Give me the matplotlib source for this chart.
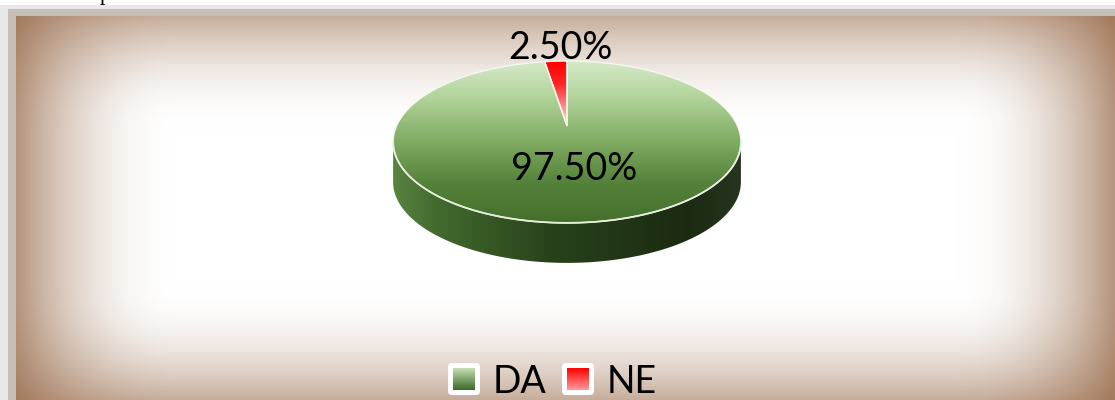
import numpy as np
import matplotlib
matplotlib.use("Agg")
import matplotlib.pyplot as plt
from matplotlib.transforms import Transform
from matplotlib.path import Path
from matplotlib.patches import Polygon, FancyBboxPatch
from matplotlib.colors import LinearSegmentedColormap

# ---------------- data ----------------
categories = ["DA", "NE"]
values = [97.5, 2.5]

# ---------------- styling ----------------
W, H = 1115, 400
FONT = "Lato"
plt.rcParams['font.family'] = [FONT, 'DejaVu Sans']

fig = plt.figure(figsize=(W / 100, H / 100), dpi=100)
ax = fig.add_axes([0, 0, 1, 1])

# ---------- background: frame + vignette ----------
yy, xx = np.mgrid[0:H, 0:W] + 0.5
dx = np.minimum(xx - 16, W - xx)
dy = np.minimum(yy - 16, H - yy)
gx = np.clip(1 - dx / 160, 0, 1) ** 2.0
gy = np.clip(1 - dy / 115, 0, 1) ** 2.0
f = 1 - (1 - 0.68 * gx) * (1 - 0.52 * gy)
D = np.array([0.43, 0.62, 0.76])
bg = 1 - f[..., None] * D
light = np.array([0.91, 0.91, 0.91])
tan = np.array([0.78, 0.75, 0.72])
bg[(yy >= 5) & (yy < 16)] = light
bg[(xx < 16) & (yy >= 5)] = light
bg[(yy >= 9) & (yy < 16) & (xx >= 8)] = tan
bg[(xx >= 8) & (xx < 16) & (yy >= 9)] = tan
bg[yy < 5] = 1.0
ax.imshow(bg, extent=(0, W, 0, H), aspect='auto', zorder=0, interpolation='bilinear')


# ---------- perspective transform for the 3D pie top ----------
class Persp(Transform):
    input_dims = 2
    output_dims = 2
    is_separable = False
    has_inverse = False

    def __init__(self, k, sx, sy, cx, cy):
        super().__init__()
        self.k, self.sx, self.sy, self.cx, self.cy = k, sx, sy, cx, cy

    def transform_non_affine(self, values):
        v = np.asarray(values, float)
        x, y = v[..., 0], v[..., 1]
        d = 1 + self.k * y
        return np.stack([self.cx + self.sx * x / d, self.cy + self.sy * y / d], axis=-1)

    def transform_path_non_affine(self, path):
        verts, codes = [], []
        for seg, code in path.iter_bezier():
            pts = seg(np.linspace(0, 1, 40))
            if code == Path.MOVETO:
                verts.append(pts[-1:])
                codes.append([Path.MOVETO])
            else:
                verts.append(pts[1:])
                codes.append([Path.LINETO] * (len(pts) - 1))
        verts = np.concatenate(verts)
        codes = np.concatenate(codes)
        verts = np.vstack([verts, verts[:1]])
        codes = np.append(codes, Path.CLOSEPOLY)
        return Path(self.transform_non_affine(verts), codes)


K = 0.197
persp = Persp(K, 170.5, 77.8, 567, 274)
DEPTH = 40

wedges, texts, autotexts = ax.pie(
    values, startangle=90, counterclock=False, autopct='%.2f%%',
    pctdistance=0.5, labeldistance=None, radius=1,
    wedgeprops=dict(edgecolor='#f4f8f0', linewidth=1.0),
    textprops=dict(fontsize=27, family=[FONT, 'DejaVu Sans'], color='black'))

# ---------- side wall ----------
t = np.linspace(np.pi + np.arcsin(K), 2 * np.pi - np.arcsin(K), 400)
top_arc = persp.transform(np.column_stack([np.cos(t), np.sin(t)]))
bot_arc = top_arc[::-1] - np.array([0, DEPTH])
side_pts = np.vstack([top_arc, bot_arc])
side = Polygon(side_pts, closed=True, facecolor='none', edgecolor='none', zorder=1)
ax.add_patch(side)
side_cmap = LinearSegmentedColormap.from_list('side', [
    (0.0, '#5a8442'), (0.12, '#436b2e'), (0.45, '#29421b'), (0.85, '#1b2b12'), (1.0, '#253521')])
xl, xr = side_pts[:, 0].min(), side_pts[:, 0].max()
yb, yt = side_pts[:, 1].min(), side_pts[:, 1].max()
im = ax.imshow(np.linspace(0, 1, 256)[None, :], cmap=side_cmap, extent=(xl, xr, yb, yt),
               aspect='auto', zorder=1, interpolation='bilinear')
im.set_clip_path(side)

# ---------- top face wedges with gradients ----------
green_cmap = LinearSegmentedColormap.from_list('g', [
    (0.0, '#d6e9c9'), (0.22, '#b2d49b'), (0.5, '#7eaa60'), (0.75, '#55823a'), (1.0, '#436f2b')])
red_cmap = LinearSegmentedColormap.from_list('r', [
    (0.0, '#ff0000'), (0.35, '#ff2525'), (0.75, '#ff9a9a'), (1.0, '#ffe6e6')])
cmaps = [green_cmap, red_cmap]

for w, cm in zip(wedges, cmaps):
    w.set_transform(persp + ax.transData)
    w.set_facecolor('none')
    w.set_zorder(3)
    ext = w.get_path().vertices
    pts = persp.transform(ext)
    x0, x1 = pts[:, 0].min(), pts[:, 0].max()
    y0, y1 = pts[:, 1].min(), pts[:, 1].max()
    img = ax.imshow(np.linspace(0, 1, 256)[:, None], cmap=cm, extent=(x0, x1, y0, y1),
                    aspect='auto', zorder=2, interpolation='bilinear', origin='upper')
    img.set_clip_path(w)

# front rim highlight
ax.plot(top_arc[:, 0], top_arc[:, 1], color='#e6eede', lw=1.3, zorder=4)

# ---------- labels ----------
for i, (w, at) in enumerate(zip(wedges, autotexts)):
    x, y = at.get_position()
    if values[i] < 10:
        th = np.deg2rad((w.theta1 + w.theta2) / 2)
        x, y = 1.25 * np.cos(th) + 0.05, 1.25 * np.sin(th)
    at.set_position(tuple(persp.transform(np.array([[x, y]]))[0]))
    at.set_zorder(6)
    at.set_va('center')
    at.set_ha('center')

# ---------- legend ----------
leg_cmaps = [LinearSegmentedColormap.from_list('lg', ['#c4e0b2', '#3d6a28']),
             LinearSegmentedColormap.from_list('lr', ['#ff0000', '#ff9a9a'])]
leg_x = [448, 562]
for cat, cm, lx in zip(categories, leg_cmaps, leg_x):
    box = FancyBboxPatch((lx, 5), 32, 32, boxstyle='round,pad=0,rounding_size=4',
                         facecolor='white', edgecolor='none', zorder=5)
    ax.add_patch(box)
    ax.imshow(np.linspace(0, 1, 64)[:, None], cmap=cm, extent=(lx + 5, lx + 27, 10, 32),
              aspect='auto', zorder=6, origin='upper', interpolation='bilinear')
    ax.text(lx + 45, 7, cat, fontsize=27, family=[FONT, 'DejaVu Sans'],
            va='baseline', ha='left', zorder=6)

# cut-off text fragment above the chart
fig.text(100 / W, 1.0, 'p', family='Liberation Serif', fontsize=16, va='baseline', ha='left')

ax.set_aspect('auto')
ax.set_xlim(0, W)
ax.set_ylim(0, H)
ax.axis('off')

fig.savefig('out.png', dpi=100)
